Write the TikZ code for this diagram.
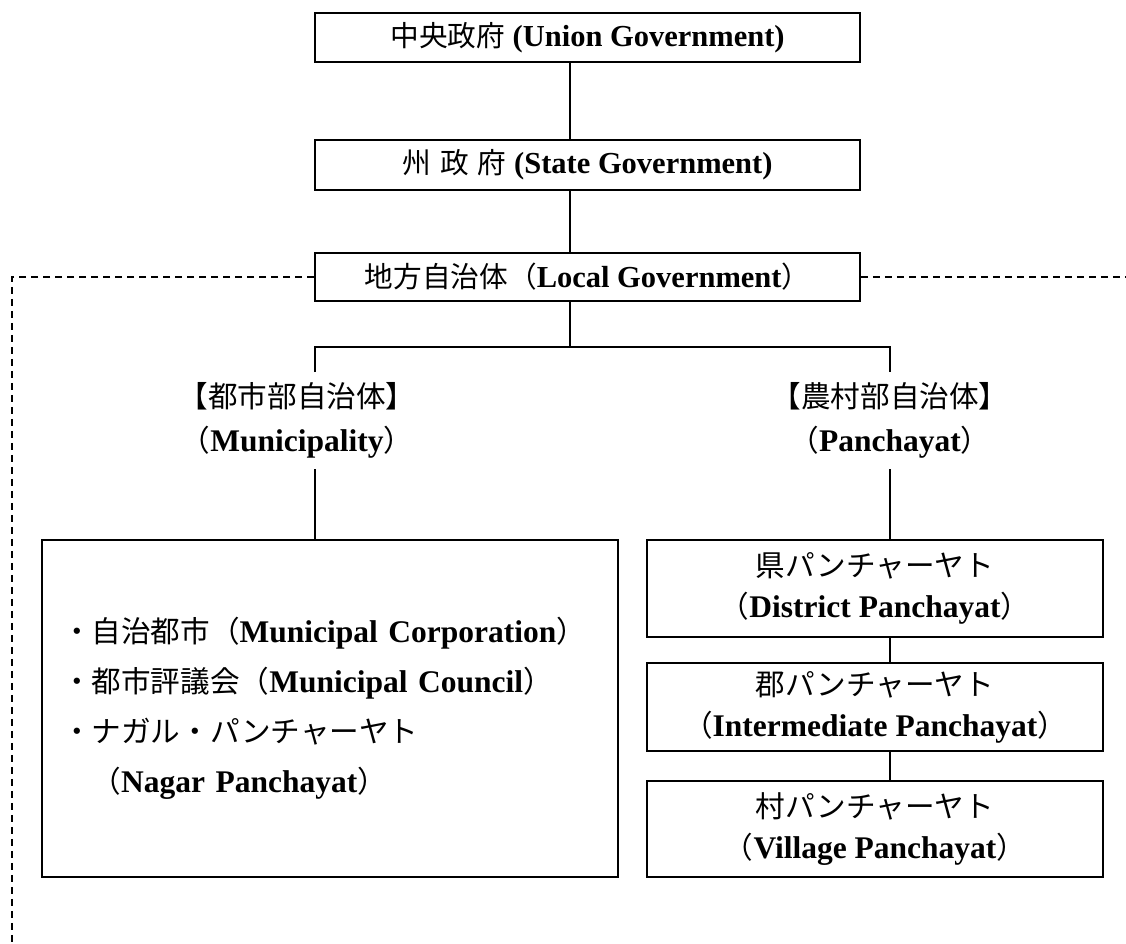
\documentclass[tikz,border=0pt]{standalone}
\usepackage{fontspec}
\setmainfont{Liberation Serif}
\newfontfamily\jpfont[Scale=0.94]{Noto Sans CJK JP}
\newcommand\jp[1]{{\jpfont\mdseries #1}}
\usetikzlibrary{positioning, calc}

\begin{document}
\begin{tikzpicture}[x=1pt, y=-1pt, line width=1.6pt,
  govbox/.style={draw, minimum width=545pt, minimum height=49pt, inner sep=0pt,
    font=\fontsize{30.5}{36}\selectfont\bfseries},
  panbox/.style={draw, minimum width=456pt, inner sep=0pt, align=center,
    font=\fontsize{31.5}{41}\selectfont\bfseries},
  title/.style={inner sep=0pt, font=\fontsize{31.5}{38}\selectfont\bfseries},
  link/.style={line width=1.6pt},
  boundary/.style={line width=1.6pt, dash pattern=on 7pt off 5pt}]
  \useasboundingbox (0,0) rectangle (1126,943);

  % upper levels
  \node[govbox] (union) at (587.5,37.5) {\jp{中央政府} (Union Government)};
  \node[govbox, minimum height=50pt] (state) at (587.5,165)
    {\jp{州}\hspace{9pt}\jp{政}\hspace{9pt}\jp{府} (State Government)};
  \node[govbox, minimum height=48pt] (local) at (587.5,277)
    {\jp{地方自治体（}Local Government\jp{）}};

  % two branches
  \node[title] (urban) at (297,396) {\jp{【都市部自治体】}};
  \node[title] (urbaneng) at (297,442) {\jp{（}Municipality\jp{）}};
  \node[title] (rural) at (890,396) {\jp{【農村部自治体】}};
  \node[title] (ruraleng) at (890,442) {\jp{（}Panchayat\jp{）}};

  % municipalities
  \node[draw, minimum width=576pt, minimum height=337pt, text width=536pt,
    inner xsep=20pt, inner ysep=0pt, align=left,
    font=\fontsize{31.5}{50}\selectfont\bfseries] (urbbox) at (330,708.5)
    {\jp{・自治都市（}Municipal Corporation\jp{）}\\
     \jp{・都市評議会（}Municipal Council\jp{）}\\
     \jp{・ナガル・パンチャーヤト}\\
     \jp{\hphantom{・}（}Nagar Panchayat\jp{）}};

  % panchayats
  \node[panbox, minimum height=97pt] (district) at (875,588.5)
    {\jp{県パンチャーヤト}\\ \jp{（}District Panchayat\jp{）}};
  \node[panbox, minimum height=88pt] (inter) at (875,707)
    {\jp{郡パンチャーヤト}\\ \jp{（}Intermediate Panchayat\jp{）}};
  \node[panbox, minimum height=96pt] (village) at (875,829)
    {\jp{村パンチャーヤト}\\ \jp{（}Village Panchayat\jp{）}};

  \coordinate (trunk) at (570,0);
  \coordinate (forkl) at (315,347);
  \coordinate (forkr) at (890,347);
  \coordinate (edgel) at (12,943);
  \coordinate (edger) at (1126,0);

  % connectors
  \draw[link] (union.south -| trunk) -- (state.north -| trunk);
  \draw[link] (state.south -| trunk) -- (local.north -| trunk);
  \draw[link] (local.south -| trunk) -- (forkl -| trunk);
  \draw[link] (forkl) ++(0,25) -- (forkl) -- (forkr) -- ++(0,25);
  \draw[link] (urbbox.north -| forkl) -- ++(0,-70);
  \draw[link] (district.north -| forkr) -- ++(0,-70);
  \draw[link] (district.south -| forkr) -- (inter.north -| forkr);
  \draw[link] (inter.south -| forkr) -- (village.north -| forkr);

  % dashed frame
  \draw[boundary] (local.west) -- (local.west -| edgel) -- (edgel);
  \draw[boundary] (local.east) -- (local.east -| edger);
\end{tikzpicture}
\end{document}
